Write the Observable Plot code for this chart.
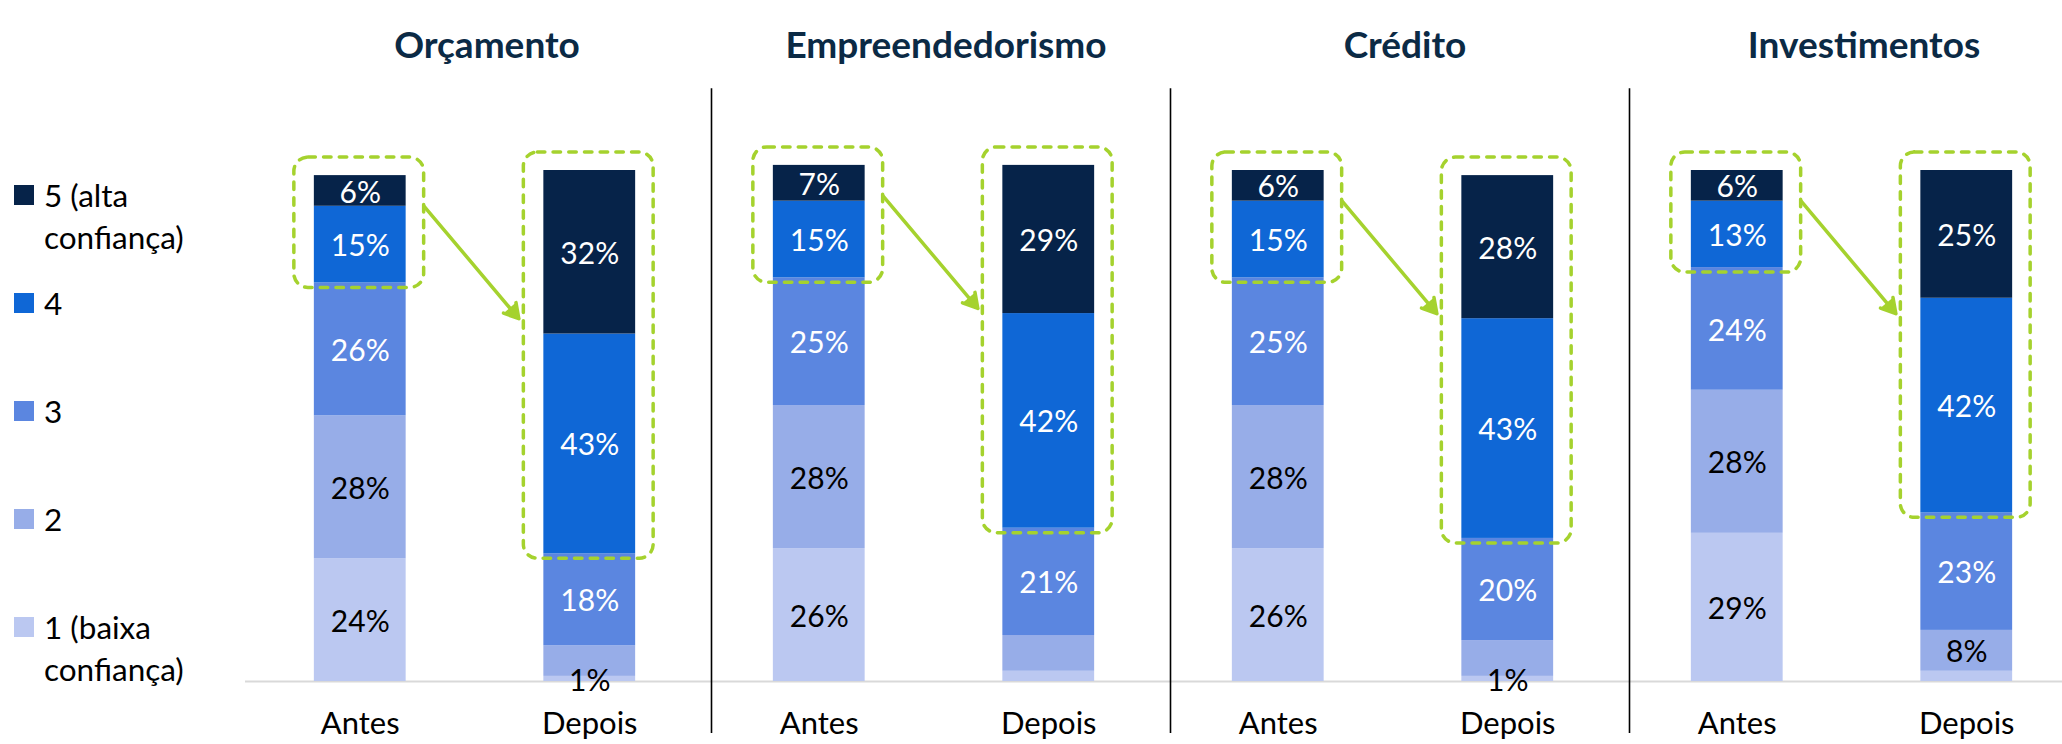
<!DOCTYPE html>
<html><head><meta charset="utf-8">
<script src="https://cdn.jsdelivr.net/npm/d3@7"></script>
<script src="https://cdn.jsdelivr.net/npm/@observablehq/plot@0.6"></script>
<style>
html,body{margin:0;padding:0;background:#fff;}
#wrap{display:flex;width:2062px;height:744px;overflow:hidden;font-family:Lato,"Open Sans",sans-serif;}
#legend{width:245px;flex:none;position:relative;height:744px;}
.item{position:absolute;left:0;display:flex;align-items:flex-start;}
.sw{width:20px;height:20px;margin-left:14px;margin-top:11px;flex:none;}
.lab{margin-left:10px;width:175px;font-size:31.5px;line-height:42.5px;color:#000;}
#chart svg{display:block;overflow:visible;}
</style></head><body>
<div id="wrap"><div id="legend"></div><div id="chart"></div></div>
<script>
// ---- data ----
const groups = ["Orçamento", "Empreendedorismo", "Crédito", "Investimentos"];
const periods = ["Antes", "Depois"];
const levels = ["1 (baixa confiança)", "2", "3", "4", "5 (alta confiança)"];
const levelColors = ["#bbc8f1", "#97ade8", "#5b86e0", "#0f67d6", "#062349"];
// shares (%) by level 1..5
const orcamentoAntes = [24, 28, 26, 15, 6];
const orcamentoDepois = [1, 6, 18, 43, 32];
const empreendedorismoAntes = [26, 28, 25, 15, 7];
const empreendedorismoDepois = [2, 7, 21, 42, 29];
const creditoAntes = [26, 28, 25, 15, 6];
const creditoDepois = [1, 7, 20, 43, 28];
const investimentosAntes = [29, 28, 24, 13, 6];
const investimentosDepois = [2, 8, 23, 42, 25];
// labels not shown in the original (group, period, level 1..5)
const hiddenLabels = [
  ["Orçamento", "Depois", 2],
  ["Empreendedorismo", "Depois", 1],
  ["Empreendedorismo", "Depois", 2],
  ["Crédito", "Depois", 2],
  ["Investimentos", "Depois", 1]
];

const seriesByGroup = [
  [orcamentoAntes, orcamentoDepois],
  [empreendedorismoAntes, empreendedorismoDepois],
  [creditoAntes, creditoDepois],
  [investimentosAntes, investimentosDepois]
];

// ---- build tables ----
const rows = [], bars = [];
groups.forEach((g, gi) => {
  periods.forEach((p, pi) => {
    const vals = seriesByGroup[gi][pi];
    const pos = gi * 2 + pi;
    let c = 0, base4 = 0;
    vals.forEach((v, li) => {
      if (li === 3) base4 = c;
      rows.push({group: g, period: p, level: levels[li], li, value: v, y1: c, y2: c + v, pos});
      c += v;
    });
    bars.push({group: g, period: p, pos, gi, pi, total: c, base4});
  });
});
const isHidden = d => hiddenLabels.some(([g, p, l]) => g === d.group && p === d.period && l === d.li + 1);
const labels = rows.filter(d => !isHidden(d));
const groupRows = groups.map((g, gi) => {
  const a = bars.find(b => b.gi === gi && b.pi === 0);
  return {group: g, gi, antesPos: gi * 2, depoisPos: gi * 2 + 1, antesTotal: a.total};
});

// ---- legend ----
const legend = document.getElementById("legend");
levels.slice().reverse().forEach((l, k) => {
  const li = levels.length - 1 - k;
  const it = document.createElement("div");
  it.className = "item";
  it.style.top = (173.75 + k * 108) + "px";
  it.innerHTML = `<div class="sw" style="background:${levelColors[li]}"></div><div class="lab">${l}</div>`;
  legend.appendChild(it);
});

// ---- chart ----
const step = 229.5;           // px per bar slot
const half = 0.2;             // half bar width in slot units
const green = "#a5d22e";
const W = 2062 - 245;

const chart = Plot.plot({
  width: W,
  height: 744,
  marginLeft: 0, marginRight: 0, marginTop: 170, marginBottom: 63,
  x: {domain: [-0.5, 7.5], range: [0, 8 * step], axis: null},
  y: {domain: [0, 100], axis: null},
  color: {domain: levels, range: levelColors},
  style: {fontFamily: "Lato, 'Open Sans', sans-serif", background: "white"},
  marks: [
    Plot.ruleY([0], {stroke: "#d9d9d9", strokeWidth: 1.8}),
    Plot.rect(rows, {x1: d => d.pos - half, x2: d => d.pos + half, y1: "y1", y2: "y2", fill: "level"}),
    Plot.text(labels.filter(d => d.li >= 2), {x: "pos", y: d => (d.y1 + d.y2) / 2, text: d => d.value + "%", fill: "white", fontSize: 30, dy: 2}),
    Plot.text(labels.filter(d => d.li < 2), {x: "pos", y: d => (d.y1 + d.y2) / 2, text: d => d.value + "%", fill: "black", fontSize: 30, dy: 2}),
    Plot.text(bars, {x: "pos", y: 0, text: "period", fill: "black", fontSize: 31, dy: 43}),
    Plot.text(groupRows, {x: d => d.antesPos + 0.5, frameAnchor: "top", text: "group", fontSize: 37, fontWeight: "bold", fill: "#0b2a45", dy: -139, dx: 12}),
    Plot.ruleX(groupRows.slice(1), {x: d => d.antesPos - 0.5, y1: 116, y2: -10.2, stroke: "black", strokeWidth: 1.6, dx: 7}),
    Plot.rect(bars, {
      x1: d => d.pos - half, x2: d => d.pos + half, y1: "base4", y2: "total",
      insetLeft: -20, insetRight: -18, insetTop: -18, insetBottom: -5, rx: 14,
      fill: "none", stroke: green, strokeWidth: 3.5, strokeDasharray: "7.5,8.2", strokeLinecap: "round"
    }),
    Plot.arrow(groupRows, {
      x1: d => d.antesPos + half + 18 / step, y1: d => d.antesTotal - 6,
      x2: d => d.depoisPos - half - 25 / step, y2: d => d.antesTotal - 28,
      stroke: green, fill: green, strokeWidth: 3.5, headLength: 7
    })
  ]
});
document.getElementById("chart").appendChild(chart);
</script>
</body></html>
